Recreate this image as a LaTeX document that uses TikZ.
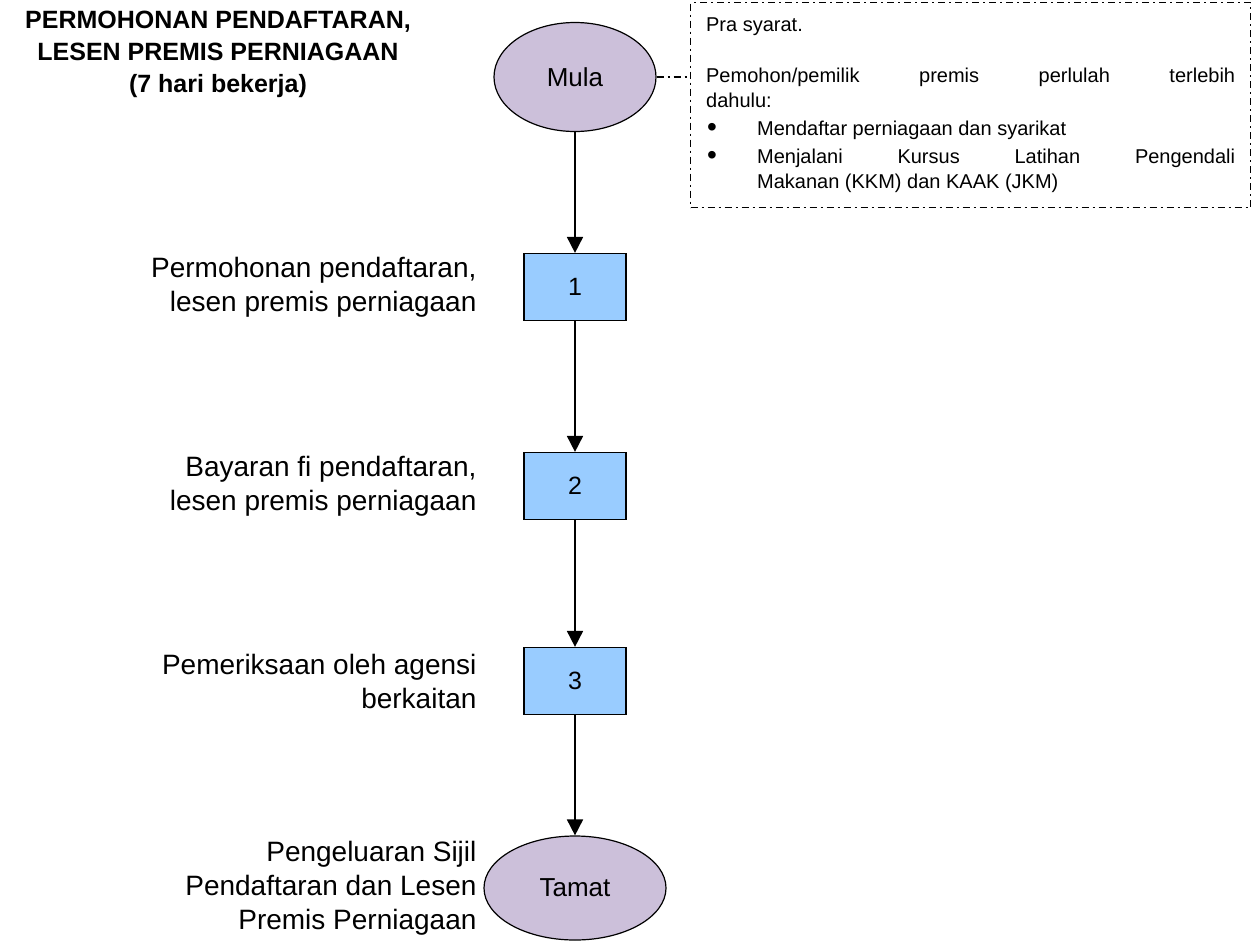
\documentclass[tikz,border=0pt]{standalone}
\usepackage{fontspec}
\setmainfont{Liberation Sans}
\usetikzlibrary{shapes.geometric,arrows.meta}
\definecolor{endfill}{HTML}{CCC0DA}
\definecolor{boxfill}{HTML}{99CCFF}
\newcommand{\notebullet}{\makebox[51pt][l]{\hspace{1pt}\smash{\raisebox{-1.5pt}{\fontsize{28}{20}\selectfont\textbullet}}}}
\tikzset{
	endpt/.style={draw,ellipse,fill=endfill,line width=1.2pt,inner sep=0pt,font=\fontsize{26}{31}\selectfont},
	stepbox/.style={draw,fill=boxfill,line width=1.2pt,minimum width=102pt,minimum height=67pt,font=\fontsize{25}{30}\selectfont},
	steplabel/.style={anchor=east,align=right,font=\fontsize{28}{34}\selectfont},
	dashdot/.style={line width=1.3pt,dash pattern=on 7pt off 4pt on 2pt off 4pt},
}
\begin{document}
\begin{tikzpicture}[x=1pt,y=-1pt]
		\useasboundingbox (0,0) rectangle (1258,943);
		\node[align=center,font=\bfseries\fontsize{25}{32}\selectfont] (title) at (218,54) {PERMOHONAN PENDAFTARAN,\\LESEN PREMIS PERNIAGAAN\\(7 hari bekerja)};
		\node[endpt,minimum width=162pt,minimum height=109pt] (mula) at (575,77) {Mula};
		\node[draw,dashdot,anchor=north west,minimum width=560pt,minimum height=205pt,text width=529pt,inner xsep=15.5pt,align=justify,font=\fontsize{20}{25}\selectfont] (note) at (690,2) {%
			Pra syarat.\par\vspace{26pt}
			Pemohon/pemilik premis perlulah terlebih\linebreak dahulu:\par\vspace{3pt}
			\noindent\notebullet Mendaftar perniagaan dan syarikat\par\vspace{3pt}
			\noindent\hangindent=51pt\hangafter=1\notebullet Menjalani Kursus Latihan Pengendali\linebreak Makanan (KKM) dan KAAK (JKM)\par};
		\node[stepbox] (s1) at (575,287) {1};
		\node[stepbox] (s2) at (575,486) {2};
		\node[stepbox] (s3) at (575,681) {3};
		\node[endpt,minimum width=182pt,minimum height=104pt] (tamat) at (575,888) {Tamat};
		\node[steplabel] (l1) at (480,287) {Permohonan pendaftaran,\\lesen premis perniagaan};
		\node[steplabel] (l2) at (480,486) {Bayaran fi pendaftaran,\\lesen premis perniagaan};
		\node[steplabel] (l3) at (480,681) {Pemeriksaan oleh agensi\\berkaitan};
		\node[steplabel] (l4) at (480,888) {Pengeluaran Sijil\\Pendaftaran dan Lesen\\Premis Perniagaan};
		\draw[dashdot] (mula) -- (mula -| note.west);
		\path[-{Triangle[width=16pt,length=16pt]},line width=1.8pt] (mula) edge (s1)
			(s1) edge (s2)
			(s2) edge (s3)
			(s3) edge (tamat);
	\end{tikzpicture}
\end{document}
